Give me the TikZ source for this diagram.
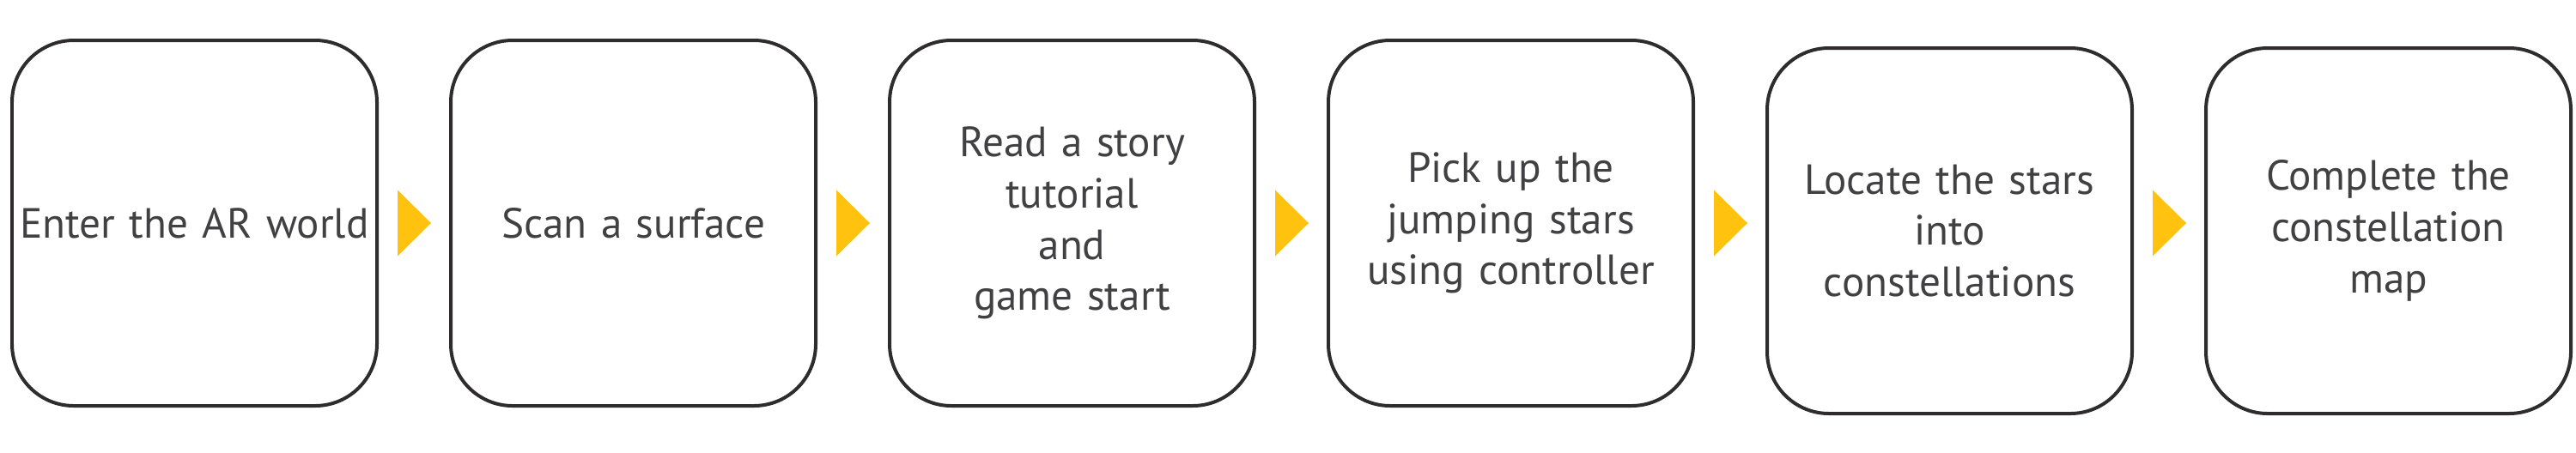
\documentclass[tikz,border=0pt]{standalone}
\usepackage{fontspec}
\setmainfont{PT Sans}
\usetikzlibrary{positioning,calc}
\definecolor{boxline}{HTML}{2E2C2D}
\definecolor{steptext}{HTML}{414042}
\definecolor{arrowyellow}{HTML}{FFC20E}

\begin{document}
\begin{tikzpicture}[
    stepbox/.style={draw=boxline, line width=0.04cm, rounded corners=0.72cm,
      minimum width=4.25cm, minimum height=4.26cm, inner sep=0pt,
      text width=4.2cm, align=center, text=steptext,
      font=\fontsize{14}{17}\selectfont},
    node distance=0.82cm]
  \useasboundingbox (0,0) rectangle (30,5.27);
  \node [stepbox] (enter) at (2.265,2.67) {Enter the AR world};
  \node [stepbox, right=of enter] (scan) {Scan a surface};
  \node [stepbox, right=of scan] (story) {Read a story\\tutorial\\and\\game start};
  \node [stepbox, right=of story] (pick) {Pick up the\\jumping stars\\using controller};
  \node [stepbox, right=of pick, yshift=-0.09cm] (locate) {Locate the stars\\into\\constellations};
  \node [stepbox, right=of locate] (complete) {Complete the\\constellation\\map};
  % yellow pointers between the steps
  \foreach \a in {enter,scan,story,pick,locate}
    \fill [arrowyellow] ($(\a.east |- enter.center)+(0.22,0.385)$)
      -- ++(0.39,-0.385) -- ++(-0.39,-0.385) -- cycle;
\end{tikzpicture}
\end{document}
